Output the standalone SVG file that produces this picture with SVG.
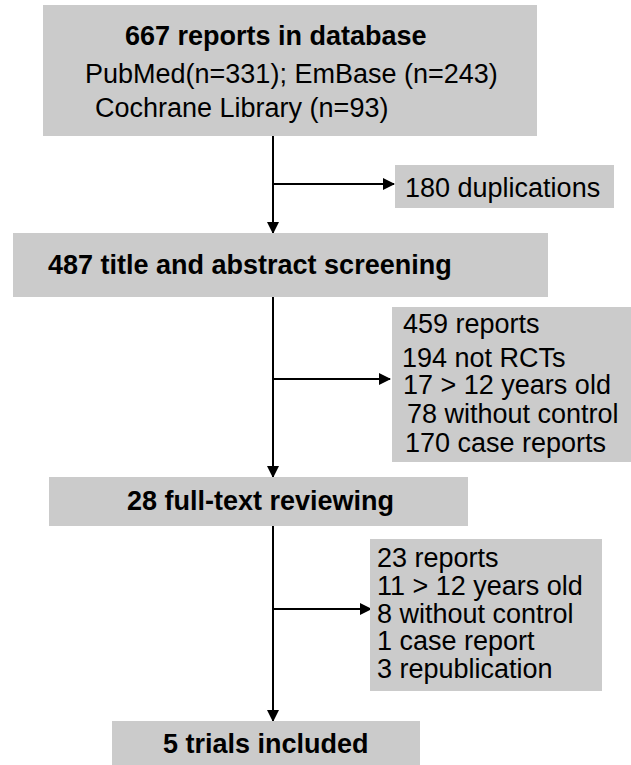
<svg xmlns="http://www.w3.org/2000/svg" width="631" height="765" viewBox="0 0 631 765">
<style>
.box{fill:#cbcbcb;stroke:none}
.b{font-family:"Liberation Sans",Arial,sans-serif;font-weight:bold;font-size:27px;fill:#000}
.r{font-family:"Liberation Sans",Arial,sans-serif;font-size:27px;fill:#000}
.ln{stroke:#000;stroke-width:2;fill:none}
</style>
<defs>
<marker id="ah" markerUnits="userSpaceOnUse" markerWidth="12" markerHeight="12" refX="11" refY="6" orient="auto">
<path d="M0,0 L12,6 L0,12 z" fill="#000"/>
</marker>
</defs>
<rect width="631" height="765" fill="#fff"/>
<g id="connectors">
<line class="ln" x1="273" y1="136" x2="273" y2="233" marker-end="url(#ah)"/>
<line class="ln" x1="273" y1="184" x2="394" y2="184" marker-end="url(#ah)"/>
<line class="ln" x1="273" y1="297" x2="273" y2="477" marker-end="url(#ah)"/>
<line class="ln" x1="273" y1="379" x2="390" y2="379" marker-end="url(#ah)"/>
<line class="ln" x1="273" y1="526" x2="273" y2="721" marker-end="url(#ah)"/>
<line class="ln" x1="273" y1="609" x2="371" y2="609" marker-end="url(#ah)"/>
</g>
<g id="n-database">
<rect class="box" x="43" y="5" width="494" height="131"/>
<text class="b" x="125" y="45">667 reports in database</text>
<text class="r" x="85" y="83">PubMed(n=331); EmBase (n=243)</text>
<text class="r" x="95" y="117">Cochrane Library (n=93)</text>
</g>
<g id="n-duplications">
<rect class="box" x="395" y="165" width="219" height="43"/>
<text class="r" x="405" y="197">180 duplications</text>
</g>
<g id="n-screening">
<rect class="box" x="13" y="233" width="535" height="64"/>
<text class="b" x="48" y="274">487 title and abstract screening</text>
</g>
<g id="n-excluded1">
<rect class="box" x="392" y="307" width="239" height="155"/>
<text class="r" x="403" y="333">459 reports</text>
<text class="r" x="402" y="367">194 not RCTs</text>
<text class="r" x="403" y="394">17 &gt; 12 years old</text>
<text class="r" x="407" y="423">78 without control</text>
<text class="r" x="405" y="452">170 case reports</text>
</g>
<g id="n-fulltext">
<rect class="box" x="49" y="477" width="419" height="49"/>
<text class="b" x="127" y="510">28 full-text reviewing</text>
</g>
<g id="n-excluded2">
<rect class="box" x="370" y="539" width="232" height="152"/>
<text class="r" x="377" y="567">23 reports</text>
<text class="r" x="377" y="595">11 &gt; 12 years old</text>
<text class="r" x="377" y="623">8 without control</text>
<text class="r" x="377" y="650">1 case report</text>
<text class="r" x="377" y="678">3 republication</text>
</g>
<g id="n-included">
<rect class="box" x="112" y="721" width="308" height="44"/>
<text class="b" x="163" y="753">5 trials included</text>
</g>
</svg>
